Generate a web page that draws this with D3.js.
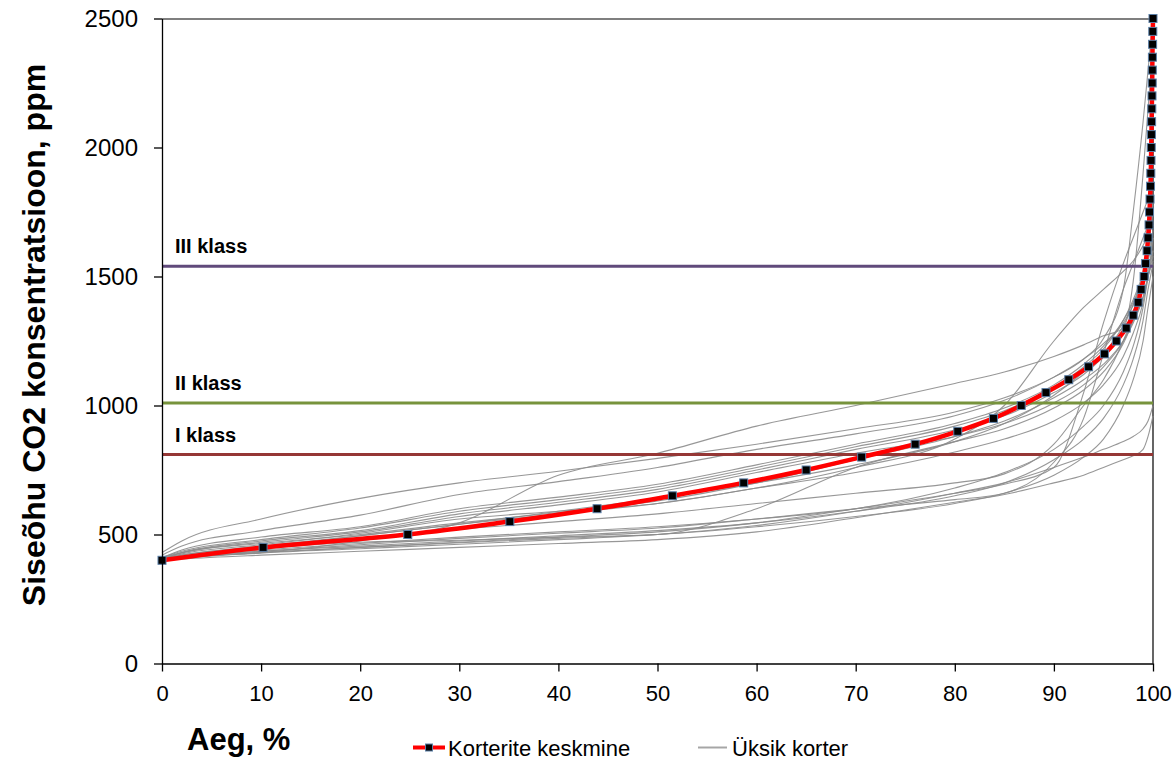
<!DOCTYPE html>
<html>
<head>
<meta charset="utf-8">
<script src="https://cdn.jsdelivr.net/npm/d3@7/dist/d3.min.js"></script>
<style>
  body { margin: 0; background: #fff; }
  text { font-family: "Liberation Sans", Arial, sans-serif; fill: #000; }
</style>
</head>
<body>
<div id="chart"></div>
<script>

// ---- data ----
var ppmTicks = [0, 500, 1000, 1500, 2000, 2500];
var pctTicks = [0, 10, 20, 30, 40, 50, 60, 70, 80, 90, 100];

// class limits (ppm)
var classNames = ["I klass", "II klass", "III klass"];
var classLevels = [810, 1010, 1540];
var classColors = ["#953735", "#77933C", "#604A7B"];

// mean of apartments: share of time (%) at each concentration level
var meanPpm = [400, 450, 500, 550, 600, 650, 700, 750, 800, 850, 900, 950, 1000, 1050, 1100,
  1150, 1200, 1250, 1300, 1350, 1400, 1450, 1500, 1550, 1600, 1650, 1700, 1750, 1800, 1850,
  1900, 1950, 2000, 2050, 2100, 2150, 2200, 2250, 2300, 2350, 2400, 2450, 2500];
var meanPct = [0, 10.2, 24.8, 35.1, 43.9, 51.5, 58.7, 65.0, 70.6, 76.0, 80.3, 83.9, 86.7, 89.2, 91.5,
  93.5, 95.1, 96.3, 97.3, 98.0, 98.5, 98.8, 99.1, 99.25, 99.4, 99.5, 99.6, 99.65, 99.7, 99.75,
  99.78, 99.8, 99.82, 99.84, 99.86, 99.88, 99.9, 99.92, 99.93, 99.94, 99.96, 99.98, 100];

// single apartments, ppm read at these shares of time
var curvePct = [0, 2, 10, 20, 30, 40, 50, 60, 70, 80, 85, 90, 93, 95, 97, 98, 99, 99.5, 100];
var aptA = [430, 475, 560, 640, 700, 745, 795, 850, 910, 975, 1030, 1110, 1180, 1260, 1450, 1750, 2100, 2300, 2500];
var aptB = [420, 455, 515, 575, 655, 705, 760, 830, 890, 960, 1020, 1110, 1180, 1240, 1320, 1390, 1500, 1620, 1780];
var aptC = [400, 410, 430, 475, 545, 730, 815, 920, 1000, 1085, 1130, 1190, 1235, 1270, 1300, 1480, 1900, 2150, 2400];
var aptD1 = [410, 440, 490, 530, 600, 645, 695, 770, 850, 930, 990, 1080, 1160, 1230, 1330, 1400, 1500, 1580, 1650];
var aptD2 = [410, 435, 480, 525, 590, 635, 685, 760, 840, 920, 980, 1070, 1150, 1220, 1330, 1410, 1520, 1620, 1750];
var aptD3 = [405, 430, 475, 515, 580, 625, 675, 750, 830, 905, 960, 1050, 1120, 1190, 1290, 1360, 1460, 1530, 1600];
var aptD4 = [405, 428, 470, 510, 570, 615, 665, 740, 815, 880, 930, 1010, 1080, 1150, 1250, 1330, 1420, 1500, 1560];
var aptE = [405, 425, 460, 505, 560, 590, 620, 680, 740, 820, 870, 940, 1010, 1080, 1190, 1280, 1400, 1500, 1600];
var aptH = [400, 415, 445, 470, 478, 490, 500, 600, 760, 860, 910, 990, 1060, 1130, 1240, 1330, 1470, 1600, 1800];
var aptF1 = [400, 415, 440, 465, 490, 510, 530, 560, 600, 680, 740, 830, 920, 1000, 1130, 1230, 1380, 1500, 1650];
var aptF2 = [400, 412, 435, 455, 475, 495, 515, 545, 590, 650, 700, 790, 870, 950, 1080, 1180, 1330, 1450, 1550];
var aptG = [400, 410, 430, 450, 468, 485, 500, 530, 570, 620, 660, 730, 800, 870, 1000, 1100, 1250, 1380, 1500];
var aptL1 = [400, 405, 420, 435, 450, 465, 480, 510, 565, 625, 655, 700, 730, 760, 790, 805, 830, 880, 960];
var aptL2 = [400, 408, 428, 445, 462, 480, 500, 535, 590, 660, 700, 760, 800, 830, 860, 880, 910, 940, 1000];
var aptS1 = [400, 410, 430, 450, 470, 490, 510, 545, 600, 660, 695, 760, 1050, 1320, 1550, 1650, 1750, 1800, 1850];
var aptS2 = [400, 412, 435, 460, 485, 505, 525, 560, 600, 635, 660, 780, 950, 1200, 1450, 1550, 1650, 1700, 1750];
var aptS3 = [400, 415, 445, 480, 520, 550, 580, 620, 660, 700, 735, 850, 1000, 1100, 1250, 1350, 1480, 1560, 1650];
var aptS4 = [405, 420, 455, 495, 540, 580, 620, 680, 760, 870, 1000, 1250, 1380, 1450, 1520, 1560, 1620, 1660, 1700];
var aptM1 = [400, 420, 450, 495, 540, 590, 640, 700, 770, 860, 930, 1040, 1130, 1200, 1310, 1390, 1500, 1580, 1680];
var aptM2 = [410, 430, 465, 500, 545, 585, 630, 700, 790, 880, 940, 1030, 1100, 1160, 1250, 1320, 1420, 1500, 1580];

var apartments = [aptA, aptB, aptC, aptD1, aptD2, aptD3, aptD4, aptE, aptH, aptF1, aptF2,
  aptG, aptL1, aptL2, aptS1, aptS2, aptS3, aptS4, aptM1, aptM2];

// ---- chart ----
var width = 1175, height = 761;
var margin = { top: 18.5, right: 22, bottom: 97.5, left: 162 };
var w = width - margin.left - margin.right,
    h = height - margin.top - margin.bottom;

var svg = d3.select("#chart").append("svg")
    .attr("width", width)
    .attr("height", height)
  .append("g")
    .attr("transform", "translate(" + margin.left + "," + margin.top + ")");

var x = d3.scaleLinear().domain([0, 100]).range([0, w]);
var y = d3.scaleLinear().domain([0, 2500]).range([h, 0]);

// plot frame (top and right)
svg.append("path")
    .attr("d", "M0,0.5H" + w + "V" + h)
    .attr("fill", "none")
    .attr("stroke", "#000")
    .attr("stroke-width", 1.2);

// single apartments
var aptLine = d3.line()
    .x(function(d) { return x(d[0]); })
    .y(function(d) { return y(d[1]); })
    .curve(d3.curveMonotoneX);

svg.selectAll(".apt")
    .data(apartments)
  .enter().append("path")
    .attr("class", "apt")
    .attr("d", function(vals) {
      return aptLine(vals.map(function(v, i) { return [curvePct[i], v]; }));
    })
    .attr("fill", "none")
    .attr("stroke", "#8c8c8c")
    .attr("stroke-opacity", 0.9)
    .attr("stroke-width", 1.1);

// class limit lines
svg.selectAll(".klass")
    .data(classLevels)
  .enter().append("line")
    .attr("class", "klass")
    .attr("x1", 0)
    .attr("x2", w)
    .attr("y1", function(d) { return y(d); })
    .attr("y2", function(d) { return y(d); })
    .attr("stroke", function(d, i) { return classColors[i]; })
    .attr("stroke-width", 3);

svg.selectAll(".klass-label")
    .data(classLevels)
  .enter().append("text")
    .attr("class", "klass-label")
    .attr("x", 13)
    .attr("y", function(d) { return y(d) - 13; })
    .style("font-size", "20px")
    .style("font-weight", "bold")
    .text(function(d, i) { return classNames[i]; });

// mean curve
var meanData = meanPpm.map(function(p, i) { return [meanPct[i], p]; });

var meanLine = d3.line()
    .x(function(d) { return x(d[0]); })
    .y(function(d) { return y(d[1]); })
    .curve(d3.curveMonotoneY);

svg.append("path")
    .datum(meanData)
    .attr("d", meanLine)
    .attr("fill", "none")
    .attr("stroke", "#ff0000")
    .attr("stroke-width", 4.5);

svg.selectAll(".marker")
    .data(meanData)
  .enter().append("rect")
    .attr("class", "marker")
    .attr("x", function(d) { return x(d[0]) - 4; })
    .attr("y", function(d) { return y(d[1]) - 4; })
    .attr("width", 8)
    .attr("height", 8)
    .attr("fill", "#000")
    .attr("stroke", "#5b7fa6")
    .attr("stroke-width", 1);

// axes
var xAxis = d3.axisBottom(x).tickValues(pctTicks).tickSize(8).tickSizeOuter(0).tickPadding(14);
var yAxis = d3.axisLeft(y).tickValues(ppmTicks).tickFormat(d3.format("d"))
    .tickSize(8).tickSizeOuter(0).tickPadding(16);

var gx = svg.append("g")
    .attr("class", "x-axis axis")
    .attr("transform", "translate(0," + h + ")")
    .call(xAxis);
var gy = svg.append("g")
    .attr("class", "y-axis axis")
    .call(yAxis);

svg.selectAll(".axis path, .axis line").attr("stroke", "#000").attr("stroke-width", 1.3);
gx.selectAll("text").style("font-size", "22px").style("font-family", "'Liberation Sans', Arial, sans-serif");
gy.selectAll("text").style("font-size", "24px").style("font-family", "'Liberation Sans', Arial, sans-serif");

// axis titles
svg.append("text")
    .attr("transform", "translate(" + (45 - margin.left) + "," + (335 - margin.top) + ") rotate(-90)")
    .attr("text-anchor", "middle")
    .style("font-size", "32px")
    .style("font-weight", "bold")
    .text("Siseõhu CO2 konsentratsioon, ppm");

svg.append("text")
    .attr("x", 187 - margin.left)
    .attr("y", 750 - margin.top)
    .style("font-size", "31px")
    .style("font-weight", "bold")
    .text("Aeg, %");

// legend
var legend = svg.append("g")
    .attr("transform", "translate(" + (-margin.left) + "," + (-margin.top) + ")");

legend.append("line")
    .attr("x1", 413).attr("x2", 445)
    .attr("y1", 747.5).attr("y2", 747.5)
    .attr("stroke", "#ff0000")
    .attr("stroke-width", 4);
legend.append("rect")
    .attr("x", 425.5).attr("y", 744)
    .attr("width", 7).attr("height", 7)
    .attr("fill", "#000")
    .attr("stroke", "#5b7fa6");
legend.append("text")
    .attr("x", 448).attr("y", 755.5)
    .style("font-size", "22px")
    .text("Korterite keskmine");

legend.append("line")
    .attr("x1", 698).attr("x2", 727)
    .attr("y1", 747.5).attr("y2", 747.5)
    .attr("stroke", "#a6a6a6")
    .attr("stroke-width", 2);
legend.append("text")
    .attr("x", 732).attr("y", 755.5)
    .style("font-size", "22px")
    .text("Üksik korter");

</script>
</body>
</html>
